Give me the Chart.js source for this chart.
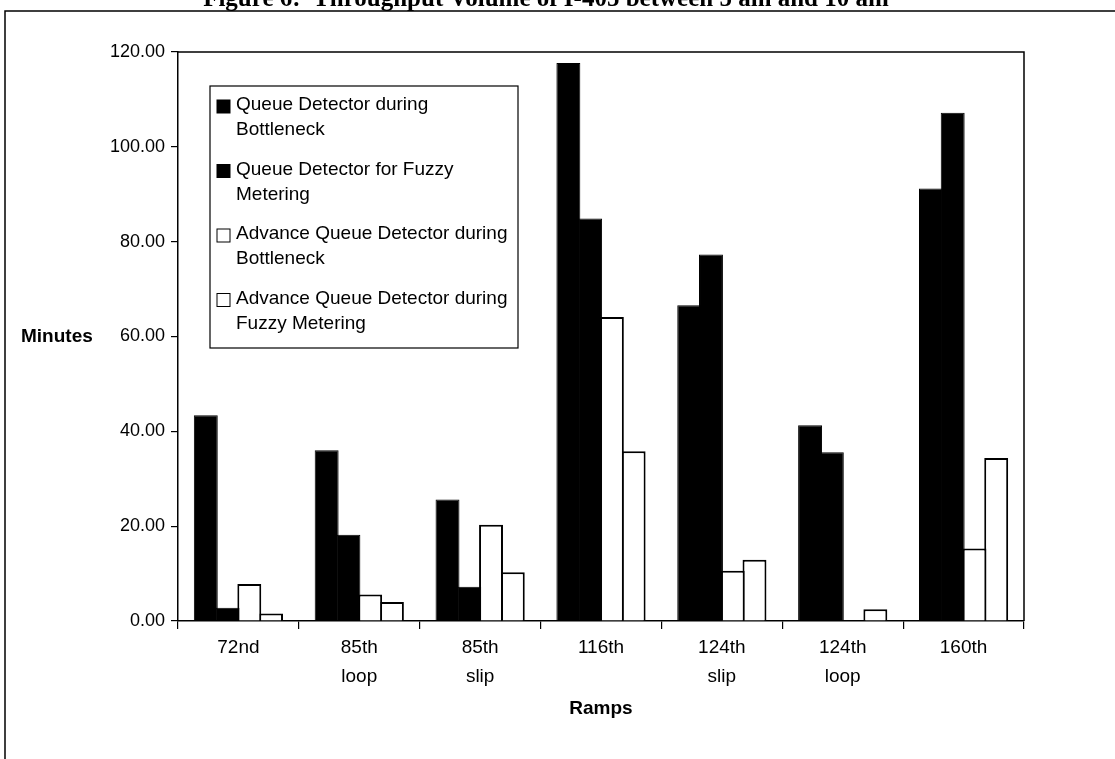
<!DOCTYPE html>
<html>
<head>
<meta charset="utf-8">
<style>
  html, body { margin: 0; padding: 0; background: #fff; }
  #wrap { width: 1115px; height: 759px; position: relative; }
</style>
</head>
<body>
<div id="wrap"><canvas id="rampChart" width="1115" height="759"></canvas></div>
<script src="https://cdn.jsdelivr.net/npm/chart.js"></script>
<script>
// data
const ramps = [['72nd'], ['85th', 'loop'], ['85th', 'slip'], ['116th'], ['124th', 'slip'], ['124th', 'loop'], ['160th']];
const seriesNames = [
    ['Queue Detector during', 'Bottleneck'],
    ['Queue Detector for Fuzzy', 'Metering'],
    ['Advance Queue Detector during', 'Bottleneck'],
    ['Advance Queue Detector during', 'Fuzzy Metering']
];
const qdBottleneck = [43.4, 36.0, 25.6, 117.7, 66.6, 41.3, 91.2];
const qdFuzzy      = [2.8, 18.2, 7.2, 84.9, 77.3, 35.6, 107.2];
const aqdBottleneck = [7.8, 5.6, 20.3, 64.1, 10.6, 0, 15.3];
const aqdFuzzy      = [1.6, 4.0, 10.3, 35.8, 12.9, 2.5, 34.4];
const yTicks = [0, 20, 40, 60, 80, 100, 120];

const FONT = 'Liberation Sans, Arial, sans-serif';
const fills = ['#000', '#000', '#fff', '#fff'];

const decor = {
    id: 'decor',
    beforeDraw(chart) {
        const c = chart.ctx;
        c.save();
        c.fillStyle = '#fff';
        c.fillRect(0, 0, chart.width, chart.height);
        // page frame
        c.strokeStyle = '#000';
        c.lineWidth = 1.5;
        c.beginPath();
        c.moveTo(5, chart.height);
        c.lineTo(5, 11);
        c.lineTo(chart.width, 11);
        c.stroke();
        // cut-off figure caption
        c.fillStyle = '#000';
        c.font = 'bold 25px Liberation Serif, Times New Roman, serif';
        c.textAlign = 'center';
        c.textBaseline = 'alphabetic';
        c.fillText('Figure 6:  Throughput Volume of I-405 between 5 am and 10 am', 546, 6);
        c.restore();
    },
    afterDraw(chart) {
        const c = chart.ctx;
        const a = chart.chartArea;
        c.save();
        c.strokeStyle = '#000';
        c.lineWidth = 1.5;
        c.beginPath();
        c.moveTo(a.left, a.top);
        c.lineTo(a.right, a.top);
        c.lineTo(a.right, a.bottom);
        c.stroke();

        c.fillStyle = '#000';
        c.font = 'bold 19px ' + FONT;
        c.textBaseline = 'middle';
        c.textAlign = 'left';
        c.fillText('Minutes', 21, 337);
        c.textAlign = 'center';
        c.fillText('Ramps', (a.left + a.right) / 2, 709);

        // legend box
        const lx = 210, ly = 86, lw = 308, lh = 262;
        c.fillStyle = '#fff';
        c.fillRect(lx, ly, lw, lh);
        c.lineWidth = 1.2;
        c.strokeRect(lx, ly, lw, lh);
        c.font = '19px ' + FONT;
        c.textAlign = 'left';
        seriesNames.forEach((lines, i) => {
            const y0 = 105 + i * 64.5;
            c.fillStyle = fills[i];
            c.fillRect(217, y0 - 5, 13, 13);
            c.strokeStyle = '#000';
            c.lineWidth = 1;
            c.strokeRect(217, y0 - 5, 13, 13);
            c.fillStyle = '#000';
            lines.forEach((t, j) => c.fillText(t, 236, y0 + j * 25));
        });
        c.restore();
    }
};

const series = [qdBottleneck, qdFuzzy, aqdBottleneck, aqdFuzzy];

new Chart(document.getElementById('rampChart').getContext('2d'), {
    type: 'bar',
    data: {
        labels: ramps,
        datasets: series.map((vals, i) => ({
            label: seriesNames[i].join(' '),
            data: vals,
            backgroundColor: fills[i],
            borderColor: '#000',
            borderWidth: i < 2 ? 1 : 2,
            categoryPercentage: 0.72,
            barPercentage: 1.1
        }))
    },
    options: {
        responsive: false,
        animation: false,
        layout: { padding: { left: 0, top: 52, right: 91, bottom: 0 } },
        plugins: { legend: { display: false }, tooltip: { enabled: false } },
        scales: {
            x: {
                afterFit(s) { s.height = 138; },
                grid: { drawOnChartArea: false, drawTicks: true, tickLength: 8, color: '#000', lineWidth: 1.2 },
                border: { display: true, color: '#000', width: 1.5 },
                ticks: { color: '#000', font: { family: FONT, size: 19, lineHeight: 1.53 }, padding: 4, maxRotation: 0 }
            },
            y: {
                min: 0,
                max: 120,
                afterFit(s) { s.width = 178; },
                afterBuildTicks(s) { s.ticks = yTicks.map(v => ({ value: v })); },
                grid: { drawOnChartArea: false, drawTicks: true, tickLength: 7, color: '#000', lineWidth: 1.2 },
                border: { display: true, color: '#000', width: 1.5 },
                ticks: { color: '#000', font: { family: FONT, size: 18 }, padding: 6, callback: v => v.toFixed(2) }
            }
        }
    },
    plugins: [decor]
});
</script>
</body>
</html>
